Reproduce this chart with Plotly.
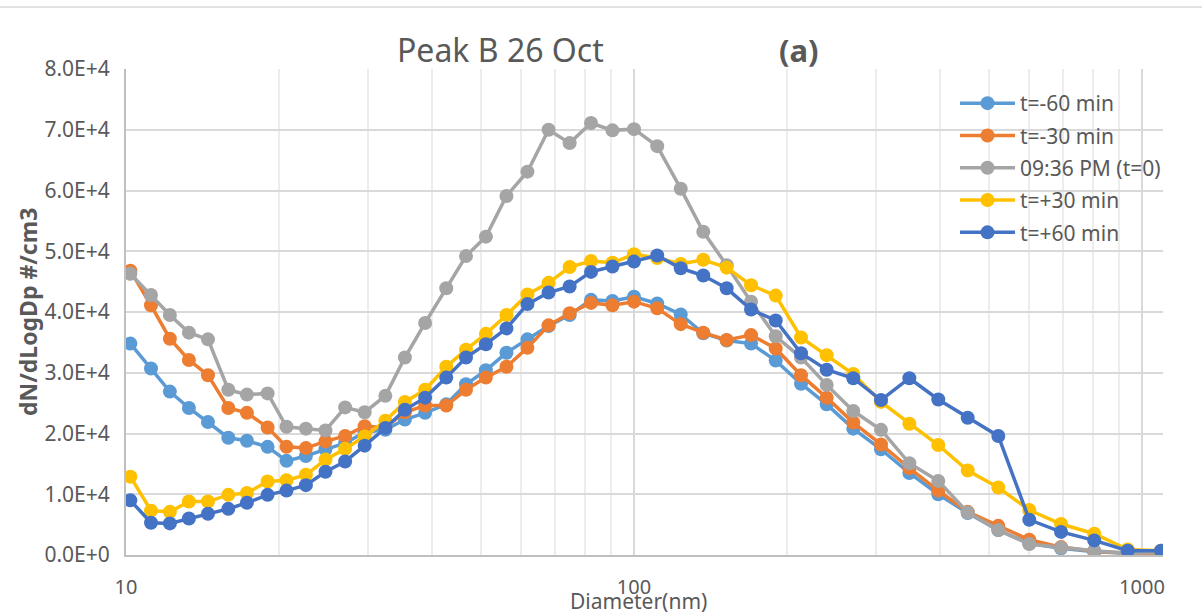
import plotly.graph_objects as go
import math

diameters = [10.2, 11.2, 12.2, 13.3, 14.5, 15.9, 17.3, 19.0, 20.7, 22.6, 24.7, 27.0, 29.5,
             32.4, 35.4, 38.8, 42.7, 46.7, 51.1, 56.1, 61.7, 67.9, 74.7, 82.3, 90.7, 100.0,
             111.1, 123.6, 136.9, 152.2, 170.0, 190.1, 213.2, 239.5, 270.2, 306.4, 348.4,
             397.2, 453.9, 521.4, 600.0, 692.9, 805.4, 937.3, 1090.0]

t_m60 = [34800, 30700, 26900, 24200, 21900, 19300, 18800, 17800, 15500, 16300, 17400, 18400, 20200,
         20600, 22300, 23400, 24800, 28100, 30400, 33300, 35500, 37700, 39500, 42000, 41800, 42500,
         41400, 39600, 36500, 35300, 34800, 32000, 28200, 24800, 20800, 17400, 13500,
         10000, 6900, 4100, 1900, 1100, 550, 300, 300]

t_m30 = [46800, 41100, 35600, 32100, 29600, 24200, 23400, 21000, 17800, 17600, 18700, 19600, 21200,
         21000, 23500, 24600, 24600, 27200, 29200, 31000, 34100, 37800, 39800, 41500, 41100, 41700,
         40600, 38000, 36600, 35400, 36200, 34000, 29600, 25900, 21800, 18200, 14300,
         10600, 7100, 4800, 2500, 1300, 600, 300, 300]

t_0 = [46300, 42800, 39500, 36600, 35500, 27200, 26400, 26600, 21100, 20800, 20500, 24300, 23500,
       26200, 32500, 38200, 43900, 49200, 52400, 59100, 63100, 70000, 67800, 71100, 69900, 70100,
       67300, 60300, 53200, 47700, 41700, 36000, 32500, 28000, 23700, 20600, 15100,
       12200, 7000, 4100, 1800, 1200, 700, 300, 400]

t_p30 = [12900, 7300, 7100, 8800, 8800, 9900, 10200, 12100, 12300, 13200, 15700, 17500, 19500,
         22100, 25200, 27200, 31000, 33800, 36400, 39500, 42900, 44800, 47400, 48400, 48100, 49500,
         48900, 47900, 48600, 47300, 44400, 42700, 35800, 32900, 29800, 25200, 21600,
         18100, 13900, 11100, 7400, 5100, 3500, 900, 700]

t_p60 = [9000, 5300, 5200, 6000, 6800, 7600, 8600, 9900, 10600, 11500, 13700, 15400, 18000,
         20900, 23900, 25900, 29200, 32500, 34700, 37300, 41300, 43200, 44200, 46600, 47500, 48300,
         49300, 47200, 46000, 43900, 40400, 38600, 33200, 30500, 29100, 25500, 29100,
         25600, 22600, 19600, 5800, 3800, 2400, 700, 700]

series_names = ["t=-60 min", "t=-30 min", "09:36 PM (t=0)", "t=+30 min", "t=+60 min"]
series_values = [t_m60, t_m30, t_0, t_p30, t_p60]
series_colors = ["#5B9BD5", "#ED7D31", "#A5A5A5", "#FFC000", "#4472C4"]

y_tickvals = [0, 10000, 20000, 30000, 40000, 50000, 60000, 70000, 80000]
y_ticktext = ["0.0E+0", "1.0E+4", "2.0E+4", "3.0E+4", "4.0E+4", "5.0E+4", "6.0E+4", "7.0E+4", "8.0E+4"]
x_tickvals = [10, 100, 1000]
x_ticktext = ["10", "100", "1000"]
x_minor = [20, 30, 40, 50, 60, 70, 80, 90, 200, 300, 400, 500, 600, 700, 800, 900, 1100]

FONT = "Noto Sans"
TXT = "#595959"

fig = go.Figure()
for i, (name, vals, col) in enumerate(zip(series_names, series_values, series_colors)):
    fig.add_trace(go.Scatter(
        x=diameters, y=vals, name=name, mode="lines+markers",
        line=dict(color=col, width=3.5),
        marker=dict(color=col, size=14, symbol="circle"),
        legendgroup="g%d" % i,
    ))

W, H = 1202, 615
L, R, T, B = 126, 39, 69, 60
pw, ph = W - L - R, H - T - B

def px_x(px):
    return (px - L) / pw

def px_y(py):
    return (H - B - py) / ph

fig.update_layout(
    width=W, height=H,
    margin=dict(l=L, r=R, t=T, b=B),
    paper_bgcolor="white", plot_bgcolor="white",
    font=dict(family=FONT, color=TXT, size=18),
    showlegend=True,
    legend=dict(x=px_x(955), y=px_y(83), xanchor="left", yanchor="top",
                font=dict(size=21, color=TXT, family=FONT),
                bgcolor="rgba(0,0,0,0)", tracegroupgap=2, itemwidth=55),
    xaxis=dict(type="log", range=[1, math.log10(1100)],
               tickvals=x_tickvals, ticktext=x_ticktext,
               showgrid=True, gridcolor="#D9D9D9", gridwidth=2,
               minor=dict(tickvals=x_minor, showgrid=True, gridcolor="#EDEDED", gridwidth=2, ticks=""),
               showline=True, linecolor="#BFBFBF", linewidth=2,
               ticks="", tickfont=dict(size=20, color=TXT), ticklabelstandoff=13,
               zeroline=False),
    yaxis=dict(range=[0, 80000], tickvals=y_tickvals, ticktext=y_ticktext,
               showgrid=True, gridcolor="#D9D9D9", gridwidth=2,
               showline=True, linecolor="#BFBFBF", linewidth=2,
               ticks="", tickfont=dict(size=21, color=TXT), ticklabelstandoff=10,
               zeroline=False),
    annotations=[
        dict(text="Peak B 26 Oct", x=px_x(500), y=px_y(50), xref="paper", yref="paper",
             showarrow=False, font=dict(size=32, color=TXT, family=FONT),
             xanchor="center", yanchor="middle"),
        dict(text="<b>(a)</b>", x=px_x(799), y=px_y(50), xref="paper", yref="paper",
             showarrow=False, font=dict(size=31, color=TXT, family=FONT),
             xanchor="center", yanchor="middle"),
        dict(text="Diameter(nm)", x=px_x(638), y=px_y(601), xref="paper", yref="paper",
             showarrow=False, font=dict(size=21, color=TXT, family=FONT),
             xanchor="center", yanchor="middle"),
        dict(text="<b>dN/dLogDp #/cm3</b>", x=px_x(28), y=px_y(312), xref="paper", yref="paper",
             showarrow=False, textangle=-90, font=dict(size=23, color=TXT, family=FONT),
             xanchor="center", yanchor="middle"),
    ],
    shapes=[
        dict(type="line", xref="paper", yref="paper", x0=px_x(0), x1=px_x(W), y0=px_y(7), y1=px_y(7),
             line=dict(color="#D9D9D9", width=1.5)),
    ],
)

fig.write_html("out.html")
